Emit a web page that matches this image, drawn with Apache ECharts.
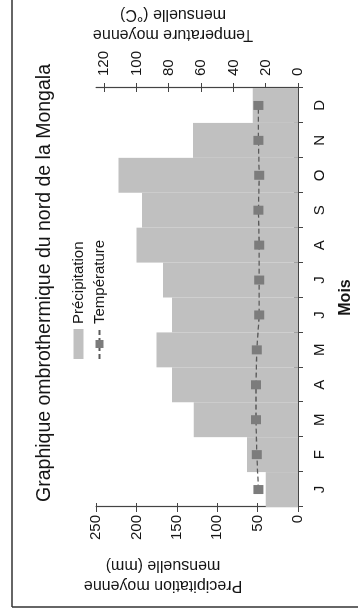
<!DOCTYPE html>
<html>
<head>
<meta charset="utf-8">
<script src="https://cdn.jsdelivr.net/npm/echarts@6/dist/echarts.min.js"></script>
<style>
  html, body { margin: 0; padding: 0; background: #fff; }
  #page { width: 358px; height: 615px; position: relative; overflow: hidden; }
  /* chart is drawn landscape, then turned a quarter turn to the left like the scan */
  #chart {
    width: 615px; height: 358px;
    position: absolute; left: 0; top: 0;
    transform-origin: 0 0;
    transform: translateY(615px) rotate(-90deg);
  }
</style>
</head>
<body>
<div id="page"><div id="chart"></div></div>
<script>
// données
const months = ['J', 'F', 'M', 'A', 'M', 'J', 'J', 'A', 'S', 'O', 'N', 'D'];
const precip = [40, 63, 129, 156, 175, 156, 167, 200, 193, 222, 130, 56];
const temp = [24.5, 25.5, 26, 26, 25.5, 24, 24, 24, 24.5, 24, 24.5, 24.5];
const precipTicks = [0, 50, 100, 150, 200, 250];
const tempTicks = [0, 20, 40, 60, 80, 100, 120];

const FONT = 'Liberation Sans, Arial, sans-serif';
const txt = '#151515';
const axisCol = '#444';

let myChart = echarts.init(document.getElementById('chart'));

let option = {
  animation: false,
  textStyle: { fontFamily: FONT },
  title: {
    text: 'Graphique ombrothermique du nord de la Mongala',
    left: 327,
    textAlign: 'center',
    top: 30,
    textStyle: { fontSize: 19.5, fontWeight: 'normal', color: txt, fontFamily: FONT }
  },
  legend: {
    orient: 'vertical',
    left: 250,
    top: 66,
    itemWidth: 30,
    itemHeight: 10,
    itemGap: 6,
    textStyle: { fontSize: 15, color: txt, fontFamily: FONT },
    data: [{ name: 'Précipitation', icon: 'rect' }, { name: 'Température' }]
  },
  grid: {
    left: 108, right: 88, top: 96, bottom: 60,
    containLabel: false,
    outerBoundsMode: 'none'
  },
  xAxis: [
    {
      type: 'category',
      data: months,
      position: 'bottom',
      axisLine: { lineStyle: { color: axisCol, width: 1.2 } },
      axisTick: { show: true, length: 5, lineStyle: { color: axisCol } },
      axisLabel: { margin: 14, fontSize: 15, color: txt, fontFamily: FONT },
      name: 'Mois',
      nameLocation: 'middle',
      nameGap: 40,
      nameTextStyle: { fontSize: 16, fontWeight: 'bold', color: txt, fontFamily: FONT }
    },
    {
      // ticks qui traversent l'axe
      type: 'category',
      data: months,
      position: 'bottom',
      axisLine: { show: false },
      axisTick: { show: true, inside: true, length: 4, lineStyle: { color: axisCol } },
      axisLabel: { show: false }
    }
  ],
  yAxis: [
    {
      type: 'value',
      position: 'left',
      min: 0, max: 250, interval: 50,
      splitLine: { show: false },
      axisLine: { show: true, lineStyle: { color: axisCol, width: 1.2 } },
      axisTick: { show: true, length: 5, lineStyle: { color: axisCol } },
      axisLabel: { margin: 8, fontSize: 15, color: txt, fontFamily: FONT }
    },
    {
      type: 'value',
      position: 'right',
      min: 0, max: 125, interval: 20,
      splitLine: { show: false },
      axisLine: { show: true, lineStyle: { color: axisCol, width: 1.2 } },
      axisTick: { show: true, length: 5, customValues: tempTicks, lineStyle: { color: axisCol } },
      axisLabel: {
        margin: 12, fontSize: 15, color: txt, fontFamily: FONT,
        customValues: tempTicks,
        formatter: v => (v > 120 ? '' : v)
      }
    },
    {
      type: 'value',
      position: 'left',
      min: 0, max: 250, interval: 50,
      splitLine: { show: false },
      axisLine: { show: false },
      axisTick: { show: true, inside: true, length: 4, lineStyle: { color: axisCol } },
      axisLabel: { show: false }
    },
    {
      type: 'value',
      position: 'right',
      min: 0, max: 125, interval: 20,
      splitLine: { show: false },
      axisLine: { show: false },
      axisTick: { show: true, inside: true, length: 4, customValues: tempTicks, lineStyle: { color: axisCol } },
      axisLabel: { show: false }
    }
  ],
  series: [
    {
      name: 'Précipitation',
      type: 'bar',
      xAxisIndex: 0,
      yAxisIndex: 0,
      barCategoryGap: '0%',
      itemStyle: { color: '#c0c0c0' },
      data: precip
    },
    {
      name: 'Température',
      type: 'line',
      xAxisIndex: 0,
      yAxisIndex: 1,
      symbol: 'rect',
      symbolSize: [9, 10],
      itemStyle: { color: '#7c7c7c' },
      lineStyle: { color: '#5a5a5a', width: 1.3, type: [5, 3] },
      data: temp
    }
  ],
  graphic: [
    // cadre du document
    { type: 'line', shape: { x1: 8, y1: 12, x2: 615, y2: 12 }, style: { stroke: '#333', lineWidth: 1.5 } },
    { type: 'line', shape: { x1: 8, y1: 12, x2: 8, y2: 358 }, style: { stroke: '#333', lineWidth: 1.5 } },
    {
      type: 'text', x: 40, y: 163, rotation: Math.PI / 2,
      style: {
        text: 'Precipitation moyenne\nmensuelle (mm)',
        align: 'center', verticalAlign: 'middle',
        fontSize: 16, lineHeight: 20, fill: txt, fontFamily: FONT
      }
    },
    {
      type: 'text', x: 591, y: 173, rotation: Math.PI / 2,
      style: {
        text: 'Temperature moyenne\nmensuelle (°C)',
        align: 'center', verticalAlign: 'middle',
        fontSize: 16, lineHeight: 20, fill: txt, fontFamily: FONT
      }
    }
  ]
};

myChart.setOption(option);
</script>
</body>
</html>
